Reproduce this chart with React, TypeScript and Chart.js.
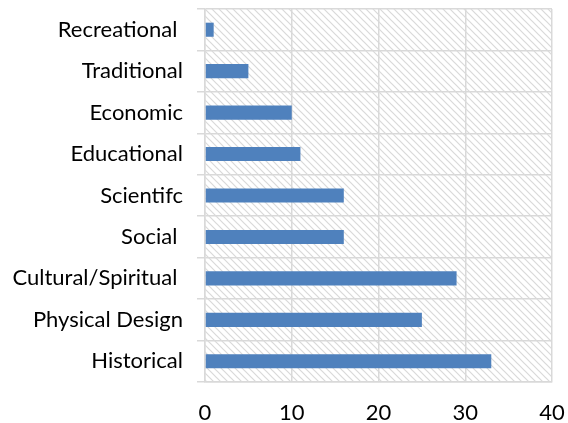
import React, { useEffect, useRef } from "react";
import { Chart, registerables } from "chart.js";

Chart.register(...registerables);

const categories = [
  "Recreational ",
  "Traditional",
  "Economic",
  "Educational",
  "Scientifc",
  "Social ",
  "Cultural/Spiritual ",
  "Physical Design",
  "Historical",
];
const values = [1, 5, 10, 11, 16, 16, 29, 25, 33];
const xTicks = [0, 10, 20, 30, 40];

const hatchPlugin = {
  id: "hatch",
  beforeDraw(chart: any) {
    const { ctx, chartArea } = chart;
    if (!chartArea) return;
    const s = 7;
    const pc = document.createElement("canvas");
    pc.width = s;
    pc.height = s;
    const p = pc.getContext("2d")!;
    p.fillStyle = "#ffffff";
    p.fillRect(0, 0, s, s);
    p.strokeStyle = "#d9d9d9";
    p.lineWidth = 1.2;
    p.beginPath();
    p.moveTo(-1, -1);
    p.lineTo(s + 1, s + 1);
    p.moveTo(-1, s - 1);
    p.lineTo(1, s + 1);
    p.moveTo(s - 1, -1);
    p.lineTo(s + 1, 1);
    p.stroke();
    const pat = ctx.createPattern(pc, "repeat");
    ctx.save();
    ctx.fillStyle = pat;
    ctx.fillRect(chartArea.left, chartArea.top, chartArea.right - chartArea.left, chartArea.bottom - chartArea.top);
    ctx.restore();
  },
};

export default function App() {
  const ref = useRef<HTMLCanvasElement>(null);
  useEffect(() => {
    if (!ref.current) return;
    const chart = new Chart(ref.current, {
      type: "bar",
      data: {
        labels: categories,
        datasets: [
          {
            data: values,
            backgroundColor: "#4f81bd",
            barPercentage: 0.34,
            categoryPercentage: 1,
          },
        ],
      },
      plugins: [hatchPlugin],
      options: {
        indexAxis: "y",
        animation: false,
        responsive: false,
        maintainAspectRatio: false,
        layout: { padding: { top: 9, right: 16, left: 0, bottom: 0 } },
        plugins: { legend: { display: false }, tooltip: { enabled: false } },
        scales: {
          x: {
            min: 0,
            max: 40,
            afterBuildTicks: (s: any) => {
              s.ticks = xTicks.map((v) => ({ value: v }));
            },
            afterFit: (s: any) => {
              s.height = 41;
              s.paddingLeft = 0;
              s.paddingRight = 0;
            },
            grid: { color: "#d9d9d9", lineWidth: 1.5, drawTicks: false },
            border: { color: "#d9d9d9", width: 1.5 },
            ticks: {
              padding: 18,
              color: "#000",
              font: { family: "Lato", size: 22 },
            },
          },
          y: {
            afterFit: (s: any) => {
              s.width = 205;
              s.paddingTop = 0;
              s.paddingBottom = 0;
            },
            grid: { color: "#d9d9d9", lineWidth: 1.5, offset: true, tickLength: 8 },
            border: { color: "#d9d9d9", width: 1.5 },
            ticks: {
              padding: 14,
              color: "#000",
              font: { family: "Lato", size: 22 },
            },
          },
        },
      },
    });
    return () => chart.destroy();
  }, []);
  return (
    <div style={{ position: "fixed", left: 0, top: 0, width: 568, height: 423, background: "#fff" }}>
      <canvas ref={ref} width={568} height={423} />
    </div>
  );
}
